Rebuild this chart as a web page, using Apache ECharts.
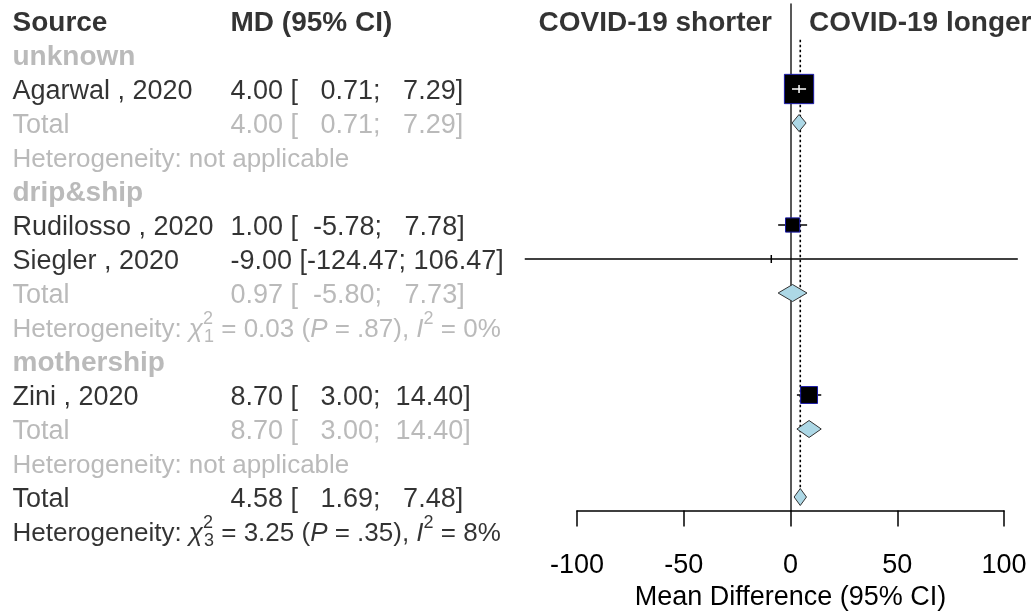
<!DOCTYPE html>
<html>
<head>
<meta charset="utf-8">
<script src="https://cdn.jsdelivr.net/npm/echarts@6/dist/echarts.min.js"></script>
<style>
  html, body { margin: 0; padding: 0; background: #fff; }
  #chart { width: 1033px; height: 616px; }
</style>
</head>
<body>
<div id="chart"></div>
<script>
// ---- Study-level mean differences (95% CI) ----
const studyNames  = ['Agarwal , 2020', 'Rudilosso , 2020', 'Siegler , 2020', 'Zini , 2020'];
const studyGroup  = [0, 1, 1, 2];
const studyMD     = [4.00, 1.00, -9.00, 8.70];
const studyLower  = [0.71, -5.78, -124.47, 3.00];
const studyUpper  = [7.29, 7.78, 106.47, 14.40];
const studyWeight = [63.7, 15.0, 0.05, 21.2];   // % weight (square area)

// ---- Subgroups ----
const groupNames = ['unknown', 'drip&ship', 'mothership'];
const groupMD    = [4.00, 0.97, 8.70];
const groupLower = [0.71, -5.80, 3.00];
const groupUpper = [7.29, 7.73, 14.40];
const groupHetDf = [null, 1, null];
const groupHetChi2 = [null, '0.03', null];
const groupHetP    = [null, '.87', null];
const groupHetI2   = [null, '0%', null];

// ---- Overall pooled estimate ----
const overallMD = 4.58;
const overallLower = 1.69;
const overallUpper = 7.48;
const overallHetDf = 3;
const overallHetChi2 = '3.25';
const overallHetP = '.35';
const overallHetI2 = '8%';

// ---- Axis ----
const xMin = -100, xMax = 100, xStep = 50;
const xTitle = 'Mean Difference (95% CI)';
const headLeft = 'COVID-19 shorter';
const headRight = 'COVID-19 longer';
const colHeads = ['Source', 'MD (95% CI)'];

const FONT = "'Liberation Sans', Arial, Helvetica, sans-serif";
const FS = 27;        // body text
const FS_BOLD = 28;   // headings and subgroup names
const FS_HET = 26;    // heterogeneity lines
const GREY = '#a9a9a9';
const BOX_K = 3.67;     // square side per sqrt(% weight)
const DIAMOND_H = 8.5;  // half-height of pooled diamonds

function ciText(m, lo, hi) {
  return m.toFixed(2) + ' [' + lo.toFixed(2).padStart(7) + '; ' + hi.toFixed(2).padStart(6) + ']';
}
function hetText(df, chi2, p, i2) {
  if (df == null) return 'Heterogeneity: not applicable';
  return 'Heterogeneity: {chi|\u03c7}{supS|2}{sub|' + df + '} = ' + chi2 +
         ' ({it|P} = ' + p + '), {it|I}{sup|2} = ' + i2;
}

// ---- Build table rows ----
const rows = [];
const studyRow = [], groupRow = [];
let r = 0;
rows.push({ row: r++, c0: colHeads[0], c1: colHeads[1], kind: 'header' });
groupNames.forEach((g, gi) => {
  rows.push({ row: r++, c0: g, kind: 'group' });
  studyNames.forEach((s, si) => {
    if (studyGroup[si] === gi) {
      studyRow[si] = r;
      rows.push({ row: r++, c0: s, c1: ciText(studyMD[si], studyLower[si], studyUpper[si]), kind: 'study' });
    }
  });
  groupRow[gi] = r;
  rows.push({ row: r++, c0: 'Total', c1: ciText(groupMD[gi], groupLower[gi], groupUpper[gi]), kind: 'sub' });
  rows.push({ row: r++, c0: hetText(groupHetDf[gi], groupHetChi2[gi], groupHetP[gi], groupHetI2[gi]), kind: 'subhet' });
});
const overallRow = r;
rows.push({ row: r++, c0: 'Total', c1: ciText(overallMD, overallLower, overallUpper), kind: 'total' });
rows.push({ row: r++, c0: hetText(overallHetDf, overallHetChi2, overallHetP, overallHetI2), kind: 'het' });
const nRows = r;

const kindStyle = {
  header: { color: '#000', fontWeight: 'bold', fontSize: FS_BOLD },
  group:  { color: GREY, fontWeight: 'bold', fontSize: FS_BOLD },
  study:  { color: '#000', fontWeight: 'normal', fontSize: FS },
  sub:    { color: GREY, fontWeight: 'normal', fontSize: FS },
  subhet: { color: GREY, fontWeight: 'normal', fontSize: FS_HET },
  total:  { color: '#000', fontWeight: 'normal', fontSize: FS },
  het:    { color: '#000', fontWeight: 'normal', fontSize: FS_HET }
};

const tableData = [];
rows.forEach(rw => {
  const st = kindStyle[rw.kind];
  tableData.push({ value: [0, rw.row], name: rw.c0, label: Object.assign({}, st) });
  if (rw.c1) tableData.push({ value: [1, rw.row], name: rw.c1, label: Object.assign({}, st) });
});

const rich = {
  chi:  { fontSize: FS_HET, fontFamily: FONT, fontStyle: 'italic' },
  supS: { fontSize: 18, fontFamily: FONT, width: 1, padding: [0, 0, 20, 0] },
  sup:  { fontSize: 18, fontFamily: FONT, padding: [0, 0, 20, 0] },
  sub:  { fontSize: 18, fontFamily: FONT, padding: [16, 0, 0, 0] },
  it:   { fontSize: FS_HET, fontFamily: FONT, fontStyle: 'italic' }
};

// Row geometry shared by both grids
const TOP = 4, ROW_H = 34;
const plotMaxRow = 14.4;

const chart = echarts.init(document.getElementById('chart'), null, { renderer: 'canvas' });

chart.setOption({
  animation: false,
  backgroundColor: '#fff',
  grid: [
    { left: 577, right: 29, top: TOP, height: ROW_H * (plotMaxRow + 0.5), containLabel: false },
    { left: 12, width: 218, top: TOP + 2.5, height: ROW_H * nRows, containLabel: false }
  ],
  xAxis: [
    {
      gridIndex: 0, type: 'value', min: xMin, max: xMax, interval: xStep,
      axisLine: { onZero: false, lineStyle: { color: '#000', width: 1.5 } },
      axisTick: { show: true, length: 16, lineStyle: { color: '#000', width: 1.5 } },
      axisLabel: { color: '#000', fontSize: FS, fontFamily: FONT, margin: 41 },
      splitLine: { show: false },
      name: xTitle, nameLocation: 'middle', nameGap: 73,
      nameTextStyle: { color: '#000', fontSize: FS, fontFamily: FONT }
    },
    { gridIndex: 1, type: 'value', min: 0, max: 1, show: false }
  ],
  yAxis: [
    {
      gridIndex: 0, type: 'value', inverse: true, min: -0.5, max: plotMaxRow,
      axisLine: { show: true, onZero: true, lineStyle: { color: '#222', width: 1.5 } },
      axisTick: { show: false }, axisLabel: { show: false }, splitLine: { show: false }
    },
    { gridIndex: 1, type: 'value', inverse: true, min: -0.5, max: nRows - 0.5, show: false }
  ],
  series: [
    // table text
    {
      type: 'scatter', xAxisIndex: 1, yAxisIndex: 1, silent: true,
      symbolSize: 1, itemStyle: { color: 'transparent' },
      data: tableData,
      label: {
        show: true, position: 'right', distance: 0,
        fontSize: FS, fontFamily: FONT,
        formatter: p => p.name, rich: rich
      }
    },
    // column headings over the plot
    {
      type: 'scatter', xAxisIndex: 0, yAxisIndex: 0, silent: true,
      symbolSize: 1, itemStyle: { color: 'transparent' },
      data: [
        { value: [0, 0], name: headLeft, label: { position: 'left' } },
        { value: [0, 0], name: headRight, label: { position: 'right' } }
      ],
      label: {
        show: true, distance: 18, offset: [0, 2], color: '#000', fontWeight: 'bold',
        fontSize: FS_BOLD, fontFamily: FONT, formatter: p => p.name
      }
    },
    // pooled-estimate reference line
    {
      type: 'line', xAxisIndex: 0, yAxisIndex: 0, silent: true, symbol: 'none',
      data: [[overallMD, 0.55], [overallMD, overallRow]],
      lineStyle: { color: '#000', width: 1.6, type: [2.5, 2.5] },
      z: 3
    },
    // studies: CI whiskers + weighted squares
    {
      type: 'custom', xAxisIndex: 0, yAxisIndex: 0, silent: true, clip: false, z: 5,
      data: studyMD.map((m, i) => [m, studyLower[i], studyUpper[i], studyRow[i], studyWeight[i]]),
      encode: { x: [0, 1, 2], y: 3 },
      renderItem: function (params, api) {
        const md = api.value(0), lo = api.value(1), hi = api.value(2), row = api.value(3), w = api.value(4);
        const c = api.coord([md, row]);
        const a = api.coord([lo, row]);
        const b = api.coord([hi, row]);
        const side = BOX_K * Math.sqrt(w);
        const kids = [
          { type: 'line', shape: { x1: a[0], y1: c[1], x2: b[0], y2: c[1] }, style: { stroke: '#000', lineWidth: 1.5 } },
          { type: 'line', shape: { x1: c[0], y1: c[1] - 4, x2: c[0], y2: c[1] + 4 }, style: { stroke: '#000', lineWidth: 1.5 } }
        ];
        if (side >= 2) {
          kids.push({ type: 'rect', shape: { x: c[0] - side / 2, y: c[1] - side / 2, width: side, height: side },
                      style: { fill: '#000', stroke: '#1a1aa8', lineWidth: 1 } });
          if (a[0] > c[0] - side / 2 && b[0] < c[0] + side / 2) {
            kids.push({ type: 'line', shape: { x1: a[0], y1: c[1], x2: b[0], y2: c[1] }, style: { stroke: '#fff', lineWidth: 1.5 } });
            kids.push({ type: 'line', shape: { x1: c[0], y1: c[1] - 4, x2: c[0], y2: c[1] + 4 }, style: { stroke: '#fff', lineWidth: 1.5 } });
          }
        }
        return { type: 'group', children: kids };
      }
    },
    // pooled diamonds (subgroups + overall)
    {
      type: 'custom', xAxisIndex: 0, yAxisIndex: 0, silent: true, z: 6,
      data: groupMD.map((m, i) => [m, groupLower[i], groupUpper[i], groupRow[i]])
              .concat([[overallMD, overallLower, overallUpper, overallRow]]),
      encode: { x: [0, 1, 2], y: 3 },
      renderItem: function (params, api) {
        const md = api.value(0), lo = api.value(1), hi = api.value(2), row = api.value(3);
        const c = api.coord([md, row]);
        const a = api.coord([lo, row]);
        const b = api.coord([hi, row]);
        return {
          type: 'polygon',
          shape: { points: [[a[0], c[1]], [c[0], c[1] - DIAMOND_H], [b[0], c[1]], [c[0], c[1] + DIAMOND_H]] },
          style: { fill: '#add8e6', stroke: '#333', lineWidth: 1 }
        };
      }
    }
  ]
});
</script>
</body>
</html>
